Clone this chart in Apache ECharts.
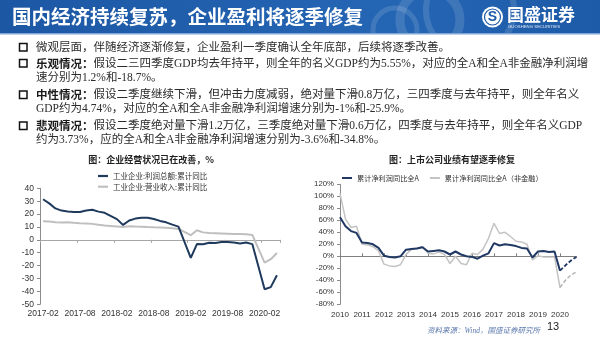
<!DOCTYPE html>
<html>
<head>
<meta charset="utf-8">
<script src="https://cdn.jsdelivr.net/npm/echarts@6/dist/echarts.min.js"></script>
<style>
  html, body { margin: 0; padding: 0; background: #fff; }
  #page { width: 600px; height: 338px; }
</style>
</head>
<body>
<div id="page"></div>
<script>
// ---- Left chart: industrial enterprises, cumulative YoY (%) ----
const months = [
  '2017-02','2017-03','2017-04','2017-05','2017-06','2017-07','2017-08','2017-09','2017-10','2017-11','2017-12',
  '2018-01','2018-02','2018-03','2018-04','2018-05','2018-06','2018-07','2018-08','2018-09','2018-10','2018-11','2018-12',
  '2019-01','2019-02','2019-03','2019-04','2019-05','2019-06','2019-07','2019-08','2019-09','2019-10','2019-11','2019-12',
  '2020-01','2020-02','2020-03','2020-04'
];
// January figures are published together with February, hence the gaps
const profitYoY = [
  31.5, 28.3, 24.4, 22.7, 22.0, 21.6, 21.6, 22.8, 23.3, 21.9, 21.0,
  null, 16.1, 11.6, 15.0, 16.5, 17.2, 17.1, 16.2, 14.7, 13.6, 11.8, 10.3,
  null, -14.0, -3.3, -3.4, -2.3, -2.4, -1.7, -1.7, -2.1, -2.9, -2.1, -3.3,
  null, -38.3, -36.7, -27.4
];
const revenueYoY = [
  14.5, 14.2, 13.7, 13.5, 13.6, 13.2, 12.9, 12.7, 12.4, 11.7, 11.1,
  null, 10.4, 10.0, 10.5, 10.3, 10.2, 9.9, 9.7, 9.6, 9.4, 9.0, 8.5,
  null, 3.6, 7.4, 5.8, 5.3, 5.2, 5.0, 4.8, 4.6, 4.6, 4.4, 3.8,
  null, -17.7, -15.0, -10.2
];

// ---- Right chart: listed companies, cumulative net profit YoY (%) ----
const years = ['2010','2011','2012','2013','2014','2015','2016','2017','2018','2019','2020'];
const quarters = years.flatMap(y => ['Q1', 'Q2', 'Q3', 'Q4'].map(q => y + q));
// 2010Q1 .. 2020Q1
const netProfitAll = [
  65, 50, 42, 39,
  23, 22, 20, 14,
  1, -1, -2, 0,
  11, 12, 13, 15,
  8, 9, 10, 8,
  3, 8, 3, 0,
  -1, -4, 1, 5,
  22, 18, 20, 19,
  17, 14, 13, -2,
  8, 9, 7, 8,
  -24
];
const netProfitNonFin = [
  105, 62, 48, 50,
  20, 19, 16, 9,
  -13, -16, -17, -14,
  3, 12, 14, 16,
  5, 4, 7, 3,
  -12, 0, -12, -14,
  5, 3, 12, 30,
  55, 38, 40, 33,
  25, 24, 20, -6,
  1, -1, -1, -1,
  -52
];
// 2020Q2 .. 2020Q4 projection (neutral case)
const projectedAll = [-15, -7, -1];
const projectedNonFin = [-40, -31, -25.9];

const bullets = [
  ['', '微观层面，伴随经济逐渐修复，企业盈利一季度确认全年底部，后续将逐季改善。'],
  ['乐观情况：', '假设二三四季度GDP均去年持平，则全年的名义GDP约为5.55%，对应的全A和全A非金融净利润增', '速分别为1.2%和-18.7%。'],
  ['中性情况：', '假设二季度继续下滑，但冲击力度减弱，绝对量下滑0.8万亿，三四季度与去年持平，则全年名义', 'GDP约为4.74%，对应的全A和全A非金融净利润增速分别为-1%和-25.9%。'],
  ['悲观情况：', '假设二季度绝对量下滑1.2万亿，三季度绝对量下滑0.6万亿，四季度与去年持平，则全年名义GDP', '约为3.73%，应的全A和全A非金融净利润增速分别为-3.6%和-34.8%。']
];

const SANS = "'Liberation Sans', Arial, sans-serif";
const CJK = "'Noto Sans CJK SC', sans-serif";
const BODY = "'Liberation Serif', 'Noto Sans CJK SC', serif";
const DARK_L = '#1f3a5c';
const DARK_R = '#203864';
const GRAY = '#bfbfbf';

// forecast lines start from the last reported quarter
const lead = new Array(netProfitAll.length - 1).fill(null);
const dashAll = lead.concat([netProfitAll[netProfitAll.length - 1]], projectedAll);
const dashNonFin = lead.concat([netProfitNonFin[netProfitNonFin.length - 1]], projectedNonFin);

// ---- slide decorations and text ----
const graphics = [];
graphics.push({
  type: 'rect', shape: { x: 0, y: 0, width: 600, height: 33 },
  style: { fill: new echarts.graphic.LinearGradient(0, 0, 1, 0, [
    { offset: 0, color: '#1c57a4' }, { offset: 0.65, color: '#2566b4' }, { offset: 1, color: '#1d5aa7' }
  ]) }
});
[[430, 20, 30, 9], [470, 10, 44, 6], [395, 30, 22, 5]].forEach(a => {
  graphics.push({ type: 'circle', shape: { cx: a[0], cy: a[1], r: a[2] },
    style: { fill: 'none', stroke: 'rgba(255,255,255,0.13)', lineWidth: a[3] } });
});
graphics.push({ type: 'rect', shape: { x: 0, y: 34.5, width: 600, height: 40 }, style: { fill: '#ffffff' } });
graphics.push({ type: 'rect', shape: { x: 0, y: 33, width: 600, height: 1.5 }, style: { fill: '#7fa6d6' } });
graphics.push({
  type: 'text', x: 12, y: 17,
  style: { text: '国内经济持续复苏，企业盈利将逐季修复', fill: '#ffffff', fontSize: 19.5, fontWeight: 'bold', fontFamily: CJK, verticalAlign: 'middle' }
});
// logo
graphics.push({ type: 'circle', shape: { cx: 492.5, cy: 17, r: 10.5 }, style: { fill: '#ffffff' } });
graphics.push({ type: 'circle', shape: { cx: 492.5, cy: 17, r: 8 }, style: { fill: 'none', stroke: '#1d5aa7', lineWidth: 1.2 } });
graphics.push({ type: 'text', x: 492.5, y: 17.5,
  style: { text: 'S', fill: '#1d5aa7', fontSize: 14, fontWeight: 'bold', fontFamily: SANS, align: 'center', verticalAlign: 'middle' } });
graphics.push({ type: 'text', x: 507, y: 15,
  style: { text: '国盛证券', fill: '#ffffff', fontSize: 17, fontWeight: 'bold', fontFamily: CJK, verticalAlign: 'middle' } });
graphics.push({ type: 'text', x: 508, y: 26.5,
  style: { text: 'GUOSHENG SECURITIES', fill: 'rgba(255,255,255,0.85)', fontSize: 4.3, fontFamily: SANS, verticalAlign: 'middle', letterSpacing: 1.3 } });

// bullet list
const lineYs = [[47.5], [63.5, 78], [95, 109], [126, 140]];
bullets.forEach((b, i) => {
  const y0 = lineYs[i][0];
  graphics.push({ type: 'rect', shape: { x: 19.5, y: y0 - 4, width: 7.5, height: 7.5 },
    style: { fill: 'none', stroke: '#111', lineWidth: 1.5 } });
  const first = (b[0] ? '{b|' + b[0] + '}' : '') + b[1];
  graphics.push({ type: 'text', x: 36, y: y0,
    style: { text: first, fill: '#2b2b2b', fontSize: 11.5, fontFamily: BODY, verticalAlign: 'middle',
      rich: { b: { fontSize: 11.5, fontFamily: CJK, fontWeight: 'bold', fill: '#1a1a1a' } } } });
  if (b[2]) {
    graphics.push({ type: 'text', x: 36, y: lineYs[i][1],
      style: { text: b[2], fill: '#2b2b2b', fontSize: 11.5, fontFamily: BODY, verticalAlign: 'middle' } });
  }
});

// chart titles and footer
graphics.push({ type: 'text', x: 151, y: 160,
  style: { text: '图：企业经营状况已在改善，%', fill: '#222', fontSize: 9, fontWeight: 'bold', fontFamily: CJK, align: 'center', verticalAlign: 'middle' } });
graphics.push({ type: 'text', x: 452, y: 160,
  style: { text: '图：上市公司业绩有望逐季修复', fill: '#222', fontSize: 9, fontWeight: 'bold', fontFamily: CJK, align: 'center', verticalAlign: 'middle' } });
graphics.push({ type: 'text', x: 427, y: 331.5,
  style: { text: '资料来源：Wind，国盛证券研究所', fill: '#5a78ad', fontSize: 7.5, fontStyle: 'italic', fontFamily: BODY, verticalAlign: 'middle' } });
graphics.push({ type: 'text', x: 547, y: 327,
  style: { text: '13', fill: '#222', fontSize: 11, fontFamily: SANS, verticalAlign: 'middle' } });

const axisText = { color: '#333', fontFamily: SANS };

const option = {
  animation: false,
  backgroundColor: '#ffffff',
  graphic: { elements: graphics },
  legend: [
    {
      data: ['工业企业:利润总额:累计同比', '工业企业:营业收入:累计同比'],
      orient: 'vertical', left: 98, top: 171, padding: 0,
      icon: 'rect', itemWidth: 10, itemHeight: 2.2, itemGap: 0.7,
      textStyle: { fontSize: 7.5, color: '#333', fontFamily: CJK, lineHeight: 10 }
    },
    {
      data: ['累计净利润同比全A', '累计净利润同比全A（非金融）'],
      orient: 'horizontal', left: 342, top: 173, padding: 0,
      icon: 'rect', itemWidth: 10, itemHeight: 2, itemGap: 11,
      textStyle: { fontSize: 7.2, color: '#333', fontFamily: CJK, lineHeight: 10 }
    }
  ],
  grid: [
    { left: 40, top: 188.3, width: 240, height: 116, outerBoundsMode: 'none' },
    { left: 340, top: 184.3, width: 236.5, height: 120, outerBoundsMode: 'none' }
  ],
  xAxis: [
    {
      gridIndex: 0, type: 'category', data: months, boundaryGap: true, position: 'bottom',
      axisLine: { onZero: true, lineStyle: { color: '#a6a6a6', width: 1 } },
      axisTick: { show: true, interval: 5, length: 3, lineStyle: { color: '#a6a6a6' } },
      axisLabel: { show: false }, splitLine: { show: false }
    },
    {
      gridIndex: 0, type: 'category', data: months, boundaryGap: true, position: 'bottom',
      axisLine: { show: false, onZero: false }, axisTick: { show: false },
      axisLabel: Object.assign({ interval: 5, fontSize: 8.5, margin: 5 }, axisText),
      splitLine: { show: false }
    },
    {
      gridIndex: 1, type: 'category', data: quarters, boundaryGap: false, position: 'bottom',
      axisLine: { onZero: true, lineStyle: { color: '#7f7f7f', width: 1 } },
      axisTick: { show: true, interval: 3, length: 3, inside: true, lineStyle: { color: '#7f7f7f' } },
      axisLabel: { show: false }, splitLine: { show: false }
    },
    {
      gridIndex: 1, type: 'category', data: quarters, boundaryGap: false, position: 'bottom',
      axisLine: { show: false, onZero: false }, axisTick: { show: false },
      axisLabel: Object.assign({ interval: 3, fontSize: 8, margin: 6, formatter: v => v.slice(0, 4) }, axisText),
      splitLine: { show: false }
    }
  ],
  yAxis: [
    {
      gridIndex: 0, type: 'value', min: -50, max: 40, interval: 10,
      axisLine: { show: true, lineStyle: { color: '#8c8c8c' } },
      axisTick: { show: true, length: 3, lineStyle: { color: '#8c8c8c' } },
      axisLabel: Object.assign({ fontSize: 8.5, margin: 6 }, axisText),
      splitLine: { show: false }
    },
    {
      gridIndex: 1, type: 'value', min: -80, max: 120, interval: 20,
      axisLine: { show: true, lineStyle: { color: '#8c8c8c' } },
      axisTick: { show: true, length: 3, lineStyle: { color: '#8c8c8c' } },
      axisLabel: Object.assign({ fontSize: 7.8, margin: 6, formatter: '{value}%' }, axisText),
      splitLine: { show: false }
    }
  ],
  series: [
    {
      name: '工业企业:利润总额:累计同比', type: 'line', xAxisIndex: 0, yAxisIndex: 0,
      data: profitYoY, connectNulls: true, showSymbol: false, z: 4,
      lineStyle: { width: 2, color: DARK_L }, itemStyle: { color: DARK_L }
    },
    {
      name: '工业企业:营业收入:累计同比', type: 'line', xAxisIndex: 0, yAxisIndex: 0,
      data: revenueYoY, connectNulls: true, showSymbol: false, z: 3,
      lineStyle: { width: 2, color: GRAY }, itemStyle: { color: GRAY }
    },
    {
      name: '累计净利润同比全A', type: 'line', xAxisIndex: 2, yAxisIndex: 1,
      data: netProfitAll, showSymbol: false, z: 4,
      lineStyle: { width: 2, color: DARK_R }, itemStyle: { color: DARK_R }
    },
    {
      name: '累计净利润同比全A（非金融）', type: 'line', xAxisIndex: 2, yAxisIndex: 1,
      data: netProfitNonFin, showSymbol: false, z: 3,
      lineStyle: { width: 1.5, color: '#c4c4c4' }, itemStyle: { color: '#c4c4c4' }
    },
    {
      name: '全A预测', type: 'line', xAxisIndex: 2, yAxisIndex: 1,
      data: dashAll, showSymbol: false, z: 4,
      lineStyle: { width: 1.8, color: DARK_R, type: [4, 2] }, itemStyle: { color: DARK_R }
    },
    {
      name: '全A非金融预测', type: 'line', xAxisIndex: 2, yAxisIndex: 1,
      data: dashNonFin, showSymbol: false, z: 3,
      lineStyle: { width: 1.5, color: '#b5b5b5', type: [4, 2] }, itemStyle: { color: '#b5b5b5' }
    }
  ]
};

const chart = echarts.init(document.getElementById('page'), null, { renderer: 'canvas' });
chart.setOption(option);
</script>
</body>
</html>
